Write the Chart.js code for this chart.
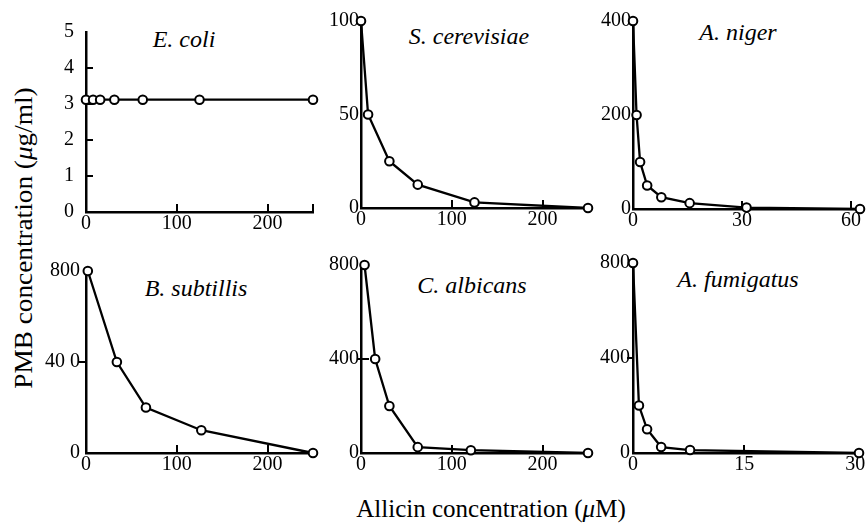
<!DOCTYPE html>
<html>
<head>
<meta charset="utf-8">
<script src="https://cdn.jsdelivr.net/npm/chart.js@4.4.1/dist/chart.umd.min.js"></script>
<style>
html, body { margin: 0; padding: 0; background: #fff; }
#wrap { position: relative; width: 868px; height: 525px; overflow: hidden; font-family: "Liberation Serif", "Times New Roman", serif; color: #000; }
#wrap canvas { position: absolute; }
.sp { position: absolute; white-space: nowrap; font-style: italic; font-size: 24px; line-height: 1; transform: translate(-50%, -50%); }
.axt { position: absolute; white-space: nowrap; font-size: 25px; line-height: 1; }
</style>
</head>
<body>
<div id="wrap">
  <div class="sp" style="left:184px;top:39px">E. coli</div>
  <div class="sp" style="left:469px;top:36px">S. cerevisiae</div>
  <div class="sp" style="left:738px;top:32px">A. niger</div>
  <div class="sp" style="left:196px;top:288px">B. subtillis</div>
  <div class="sp" style="left:472px;top:285px">C. albicans</div>
  <div class="sp" style="left:738px;top:279px">A. fumigatus</div>
  <div class="axt" style="left:491px;top:508px;transform:translate(-50%,-50%)">Allicin concentration (<i>μ</i>M)</div>
  <div class="axt" style="left:23px;top:238px;transform:translate(-50%,-50%) rotate(-90deg) scaleX(1.09)">PMB concentration (<i>μ</i>g/ml)</div>
</div>
<script>
// ---------- data ----------
const ecoliX = [0, 7.8, 15.6, 31.25, 62.5, 125, 250];
const ecoliY = [3.12, 3.12, 3.12, 3.12, 3.12, 3.12, 3.12];
const scerX = [0, 7.8, 31.25, 62.5, 125, 250];
const scerY = [100, 50, 25, 12.5, 3, 0];
const anigerX = [0, 0.98, 1.95, 3.9, 7.8, 15.6, 31.25, 62.5];
const anigerY = [400, 200, 100, 50, 25, 12.5, 3, 0];
const bsubX = [2, 34, 66, 127, 250];
const bsubY = [800, 400, 200, 100, 0];
const calbX = [3.9, 15.6, 31.25, 62.5, 121, 250];
const calbY = [800, 400, 200, 25, 12, 0];
const afumX = [0, 0.8, 1.9, 3.8, 7.7, 30.5];
const afumY = [800, 200, 100, 25, 12.5, 0];

// tick values and labels
const xTicks250 = [0, 100, 200];
const xTicksNiger = [0, 30, 60];
const xTicksFum = [0, 15, 30];
const yTicksEcoli = [0, 1, 2, 3, 4, 5];
const yTicksScer = [0, 50, 100];
const yTicksNiger = [0, 200, 400];
const yTicks800 = [0, 400, 800];
const yLabelsBsub = ['0', '40 0', '800'];

// ---------- layout (plot box in page px) ----------
const panels = [
  { xs: ecoliX, ys: ecoliY, xMax: 250, yMax: 5, xT: xTicks250, yT: yTicksEcoli,
    box: [86, 22, 313, 212], yPad: 12, xMarks: [100, 200, 250], yMarks: [1, 2, 3, 4], yMark: [0, 7] },
  { xs: scerX, ys: scerY, xMax: 250, yMax: 100, xT: xTicks250, yT: yTicksScer,
    box: [361, 21, 588, 208], yPad: 2, xMarks: [100, 200], yMarks: [], yMark: [0, 6] },
  { xs: anigerX, ys: anigerY, xMax: 62.5, yMax: 400, xT: xTicksNiger, yT: yTicksNiger,
    box: [633, 21, 860, 209], yPad: 2, xMarks: [30, 60], yMarks: [], yMark: [0, 6] },
  { xs: bsubX, ys: bsubY, xMax: 250, yMax: 800, xT: xTicks250, yT: yTicks800, yL: yLabelsBsub,
    box: [86, 267, 313, 453], yPad: 6, xMarks: [100, 200], yMarks: [400], yMark: [-7, 0] },
  { xs: calbX, ys: calbY, xMax: 250, yMax: 800, xT: xTicks250, yT: yTicks800,
    box: [361, 265, 588, 453], yPad: 2, xMarks: [100, 200], yMarks: [400], yMark: [-4, 8] },
  { xs: afumX, ys: afumY, xMax: 30.5, yMax: 800, xT: xTicksFum, yT: yTicks800,
    box: [633, 262, 859, 453], yPad: 3, xMarks: [15], yMarks: [400], yMark: [-6, 0] }
];

const PL = 0, YW = 50, PR = 14, PT = 14, XH = 32, PB = 0;
const FONT = { family: '"Liberation Serif", "Times New Roman", serif', size: 20 };

const markPlugin = {
  id: 'marks',
  beforeDatasetsDraw(chart, args, o) {
    const { ctx, scales: { x, y } } = chart;
    ctx.save();
    ctx.strokeStyle = '#000';
    ctx.lineWidth = 2;
    ctx.beginPath();
    o.xMarks.forEach(v => {
      const px = Math.round(x.getPixelForValue(v));
      ctx.moveTo(px, y.bottom);
      ctx.lineTo(px, y.bottom - 8);
    });
    o.yMarks.forEach(v => {
      const py = Math.round(y.getPixelForValue(v));
      ctx.moveTo(x.left + o.yMark[0], py);
      ctx.lineTo(x.left + o.yMark[1], py);
    });
    ctx.stroke();
    ctx.restore();
  }
};

const wrap = document.getElementById('wrap');
panels.forEach(p => {
  const [l, t, r, b] = p.box;
  const cw = PL + YW + (r - l) + PR;
  const ch = PT + (b - t) + XH + PB;
  const cv = document.createElement('canvas');
  cv.width = cw; cv.height = ch;
  cv.style.left = (l - PL - YW) + 'px';
  cv.style.top = (t - PT) + 'px';
  cv.style.width = cw + 'px';
  cv.style.height = ch + 'px';
  wrap.appendChild(cv);
  new Chart(cv, {
    type: 'line',
    data: {
      datasets: [{
        data: p.xs.map((xv, i) => ({ x: xv, y: p.ys[i] })),
        borderColor: '#000', borderWidth: 2.3, tension: 0,
        pointRadius: 4.3, pointHoverRadius: 4.3, pointBorderWidth: 2,
        pointBackgroundColor: '#fff', pointBorderColor: '#000',
        clip: false, fill: false
      }]
    },
    options: {
      responsive: false, animation: false, devicePixelRatio: 1,
      events: [],
      layout: { padding: { left: PL, right: PR, top: PT, bottom: PB } },
      plugins: { legend: { display: false }, tooltip: { enabled: false }, title: { display: false },
        marks: { xMarks: p.xMarks, yMarks: p.yMarks, yMark: p.yMark } },
      scales: {
        x: {
          type: 'linear', min: 0, max: p.xMax,
          afterBuildTicks: s => { s.ticks = p.xT.map(v => ({ value: v })); },
          afterFit: s => { s.height = XH; },
          grid: { display: false, drawTicks: false },
          border: { display: true, color: '#000', width: 2.5 },
          ticks: { color: '#000', font: FONT, padding: 0, maxRotation: 0, autoSkip: false,
            callback: (v, i) => String(p.xT[i]) }
        },
        y: {
          type: 'linear', min: 0, max: p.yMax,
          afterBuildTicks: s => { s.ticks = p.yT.map(v => ({ value: v })); },
          afterFit: s => { s.width = YW; },
          grid: { display: false, drawTicks: false },
          border: { display: true, color: '#000', width: 2.5 },
          ticks: { color: '#000', font: FONT, padding: p.yPad, autoSkip: false,
            callback: (v, i) => p.yL ? p.yL[i] : String(p.yT[i]) }
        }
      }
    },
    plugins: [markPlugin]
  });
});
</script>
</body>
</html>
